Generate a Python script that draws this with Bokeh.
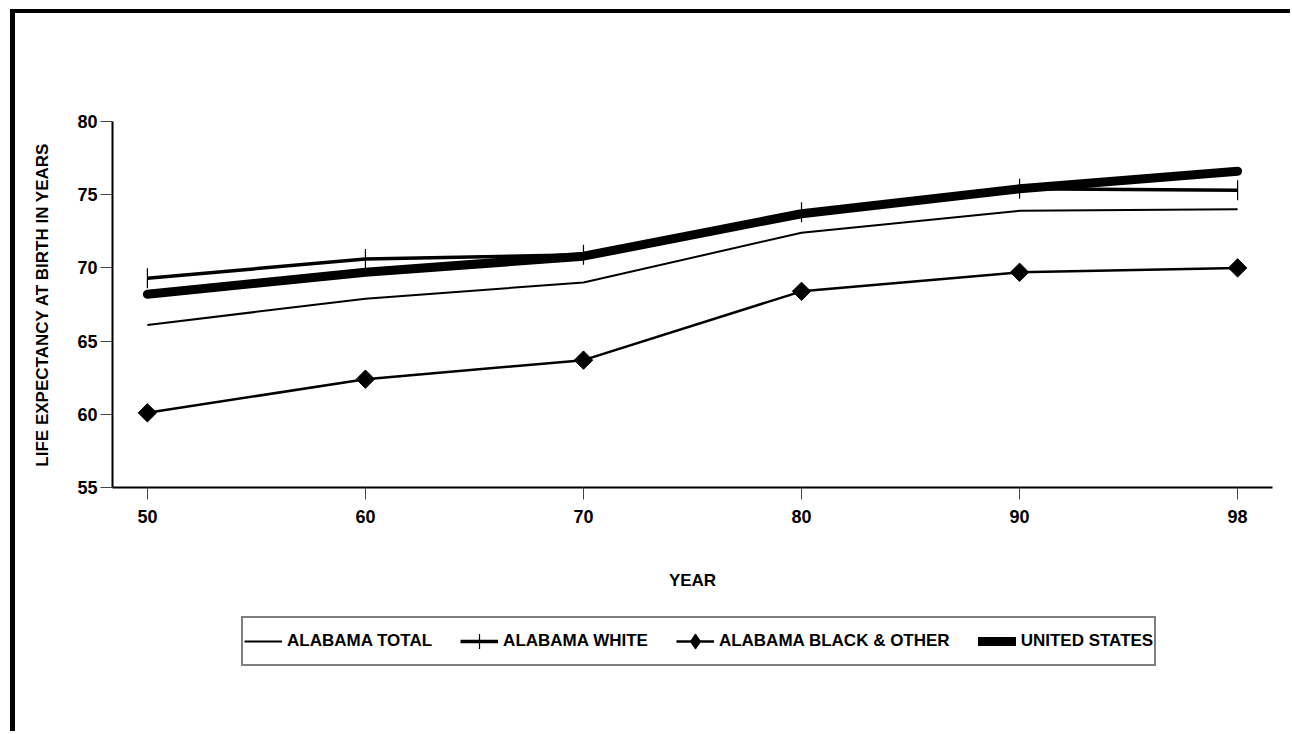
import math
from bokeh.plotting import figure
from bokeh.layouts import column
from bokeh.models import Range1d, FixedTicker, Legend, LegendItem
from bokeh.embed import file_html
from bokeh.resources import INLINE

# ---- data ----
years = ["50", "60", "70", "80", "90", "98"]
alabama_total = [66.1, 67.9, 69.0, 72.4, 73.9, 74.0]
alabama_white = [69.3, 70.6, 70.9, 73.8, 75.4, 75.3]
alabama_black = [60.1, 62.4, 63.7, 68.4, 69.7, 70.0]
united_states = [68.2, 69.7, 70.8, 73.7, 75.4, 76.6]
y_ticks = [55, 60, 65, 70, 75, 80]
series_labels = ["ALABAMA TOTAL", "ALABAMA WHITE", "ALABAMA BLACK & OTHER", "UNITED STATES"]

xs = list(range(len(years)))
FONT = "Liberation Sans"
FIG_W = 1275


def draw_series(fig, for_legend=False):
    r_total = fig.line(xs, alabama_total, line_width=2, line_color="black")
    r_black_line = fig.line(xs, alabama_black, line_width=2.5, line_color="black")
    if for_legend:
        r_black_mk = fig.scatter(xs, alabama_black, marker="diamond", size=20,
                                 fill_color="black", line_color="black")
    else:
        r_black_mk = fig.scatter(xs, alabama_black, marker="square", angle=math.pi / 4, size=13,
                                 fill_color="black", line_color="black")
    r_us = fig.line(xs, united_states, line_width=9, line_color="black",
                    line_cap="round", line_join="round")
    r_white_line = fig.line(xs, alabama_white, line_width=3.5, line_color="black")
    if for_legend:
        r_white_mk = fig.scatter(xs, alabama_white, marker="cross", size=20,
                                 line_width=1.2, line_color="black")
    else:
        r_white_mk = fig.scatter(xs, alabama_white, marker="dash", angle=math.pi / 2, size=20,
                                 line_width=1.2, line_color="black")
    return [[r_total], [r_white_line, r_white_mk], [r_black_line, r_black_mk], [r_us]]


# ---- main chart ----
p = figure(width=FIG_W, height=594, output_backend="svg", toolbar_location=None,
           x_range=Range1d(-0.16, 5.16), y_range=Range1d(55, 80),
           min_border_left=97, min_border_top=108, min_border_right=18,
           min_border_bottom=120)
draw_series(p)

p.grid.visible = False
p.outline_line_color = None

p.xaxis.ticker = FixedTicker(ticks=xs)
p.xaxis.major_label_overrides = {i: y for i, y in enumerate(years)}
p.xaxis.axis_label = "YEAR"
p.yaxis.ticker = FixedTicker(ticks=y_ticks)
p.yaxis.axis_label = "LIFE EXPECTANCY AT BIRTH IN YEARS"

for ax in p.axis:
    ax.axis_line_width = 2
    ax.axis_line_color = "black"
    ax.major_tick_in = 0
    ax.major_tick_out = 12
    ax.major_tick_line_color = "#444444"
    ax.major_tick_line_width = 1
    ax.minor_tick_line_color = None
    ax.major_label_text_font = FONT
    ax.major_label_text_font_style = "bold"
    ax.major_label_text_font_size = "18px"
    ax.major_label_text_color = "black"
    ax.axis_label_text_font = FONT
    ax.axis_label_text_font_style = "bold"
    ax.axis_label_text_font_size = "17px"
    ax.axis_label_text_color = "black"

p.xaxis.major_label_standoff = 10
p.xaxis.axis_label_standoff = 45
p.yaxis.major_label_standoff = 3
p.yaxis.axis_label_standoff = 22

# ---- legend strip (series drawn off-range, only their legend glyphs show) ----
lg = figure(width=FIG_W, height=124, output_backend="svg", toolbar_location=None,
            x_axis_type=None, y_axis_type=None,
            x_range=Range1d(100, 101), y_range=Range1d(0, 1),
            min_border_left=0, min_border_right=0, min_border_top=0, min_border_bottom=0)
lg.grid.visible = False
lg.outline_line_color = None
groups = draw_series(lg, for_legend=True)

legend = Legend(items=[LegendItem(label=lab, renderers=rs) for lab, rs in zip(series_labels, groups)],
                orientation="horizontal", location=(129, 65))
legend.border_line_color = "black"
legend.border_line_width = 2
legend.padding = 1
legend.spacing = 28
legend.glyph_width = 38
legend.glyph_height = 44
legend.label_height = 44
legend.label_standoff = 5
legend.label_text_font = FONT
legend.label_text_font_style = "bold"
legend.label_text_font_size = "17px"
legend.label_text_color = "black"
legend.margin = 0
lg.add_layout(legend, "center")

page = column(p, lg, spacing=0,
              styles={"border-left": "5px solid black", "border-top": "4px solid black",
                      "margin-left": "10px", "margin-top": "9px"})

open("out.html", "w").write(file_html(page, INLINE))
